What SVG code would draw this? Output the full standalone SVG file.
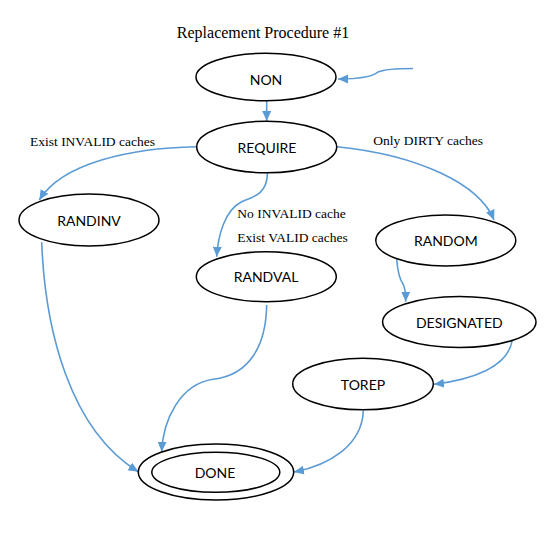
<svg xmlns="http://www.w3.org/2000/svg" width="550" height="538" viewBox="0 0 550 538">
<style>
.node ellipse{fill:#fff;stroke:#000;stroke-width:1.5}
.node text{font-family:Lato,"Open Sans","Liberation Sans",sans-serif;font-size:14px;fill:#000;text-anchor:middle}
.lbl{font-family:"Liberation Serif","Times New Roman",serif;font-size:13.5px;fill:#000}
.edge{fill:none;stroke:#5B9BD5;stroke-width:1.6;marker-end:url(#arr)}
</style>
<defs>
<marker id="arr" markerUnits="userSpaceOnUse" markerWidth="11" markerHeight="10" refX="10" refY="4.5" orient="auto">
<path d="M0,0 L10,4.5 L0,9 z" fill="#5B9BD5"/>
</marker>
</defs>
<rect width="550" height="538" fill="#fff"/>
<text x="263" y="37.5" font-family="Liberation Serif,Times New Roman,serif" font-size="16" text-anchor="middle">Replacement Procedure #1</text>
<g id="connectors">
<path class="edge" d="M413,68.5 C400,68.5 385,69 378,72 C372,77 355,79 338,79"/>
<path class="edge" d="M266.7,101 L266.7,121"/>
<path class="edge" d="M196.7,146.7 C130,148 62,163 39.3,200"/>
<path class="edge" d="M267.3,172.7 C268,195 250,198 241.7,201.7 C225,210 218,235 216.7,256.7"/>
<path class="edge" d="M336.7,146.7 C420,155 480,185 494,220"/>
<path class="edge" d="M396.7,259.3 C398,275 400,280 403,284 C406,290 405.7,295 405.7,301.7"/>
<path class="edge" d="M512.3,340 C508,368 470,380 434,384.3"/>
<path class="edge" d="M363.3,410.7 C362,445 330,465 294,472"/>
<path class="edge" d="M41.7,242.3 C45,330 70,430 138.3,471.7"/>
<path class="edge" d="M266.7,305 C266,345 250,375 213.3,379.3 C180,384 163,420 161.7,451.7"/>
</g>
<g id="labels">
<text class="lbl" x="30" y="145.7">Exist INVALID caches</text>
<text class="lbl" x="373.3" y="145">Only DIRTY caches</text>
<text class="lbl" x="237.3" y="218.3">No INVALID cache</text>
<text class="lbl" x="237.3" y="242.3">Exist VALID caches</text>
</g>
<g id="NON" class="node"><ellipse cx="266" cy="77" rx="70" ry="23.7"/><text x="266" y="85">NON</text></g>
<g id="REQUIRE" class="node"><ellipse cx="266.7" cy="147" rx="70" ry="25.8"/><text x="267" y="152.7">REQUIRE</text></g>
<g id="RANDINV" class="node"><ellipse cx="89" cy="220" rx="70" ry="26"/><text x="89" y="226">RANDINV</text></g>
<g id="RANDVAL" class="node"><ellipse cx="266.3" cy="276.7" rx="70" ry="25"/><text x="266" y="282.3">RANDVAL</text></g>
<g id="RANDOM" class="node"><ellipse cx="445.8" cy="240.5" rx="70" ry="25.5"/><text x="445.8" y="246">RANDOM</text></g>
<g id="DESIGNATED" class="node"><ellipse cx="459.3" cy="322" rx="76.7" ry="25.5"/><text x="459.3" y="328.3">DESIGNATED</text></g>
<g id="TOREP" class="node"><ellipse cx="363" cy="384" rx="70.3" ry="25.8"/><text x="363" y="390">TOREP</text></g>
<g id="DONE" class="node"><ellipse cx="216" cy="472" rx="77.7" ry="28"/><ellipse cx="215.8" cy="472.3" rx="64" ry="20"/><text x="215" y="478.3">DONE</text></g>
</svg>
